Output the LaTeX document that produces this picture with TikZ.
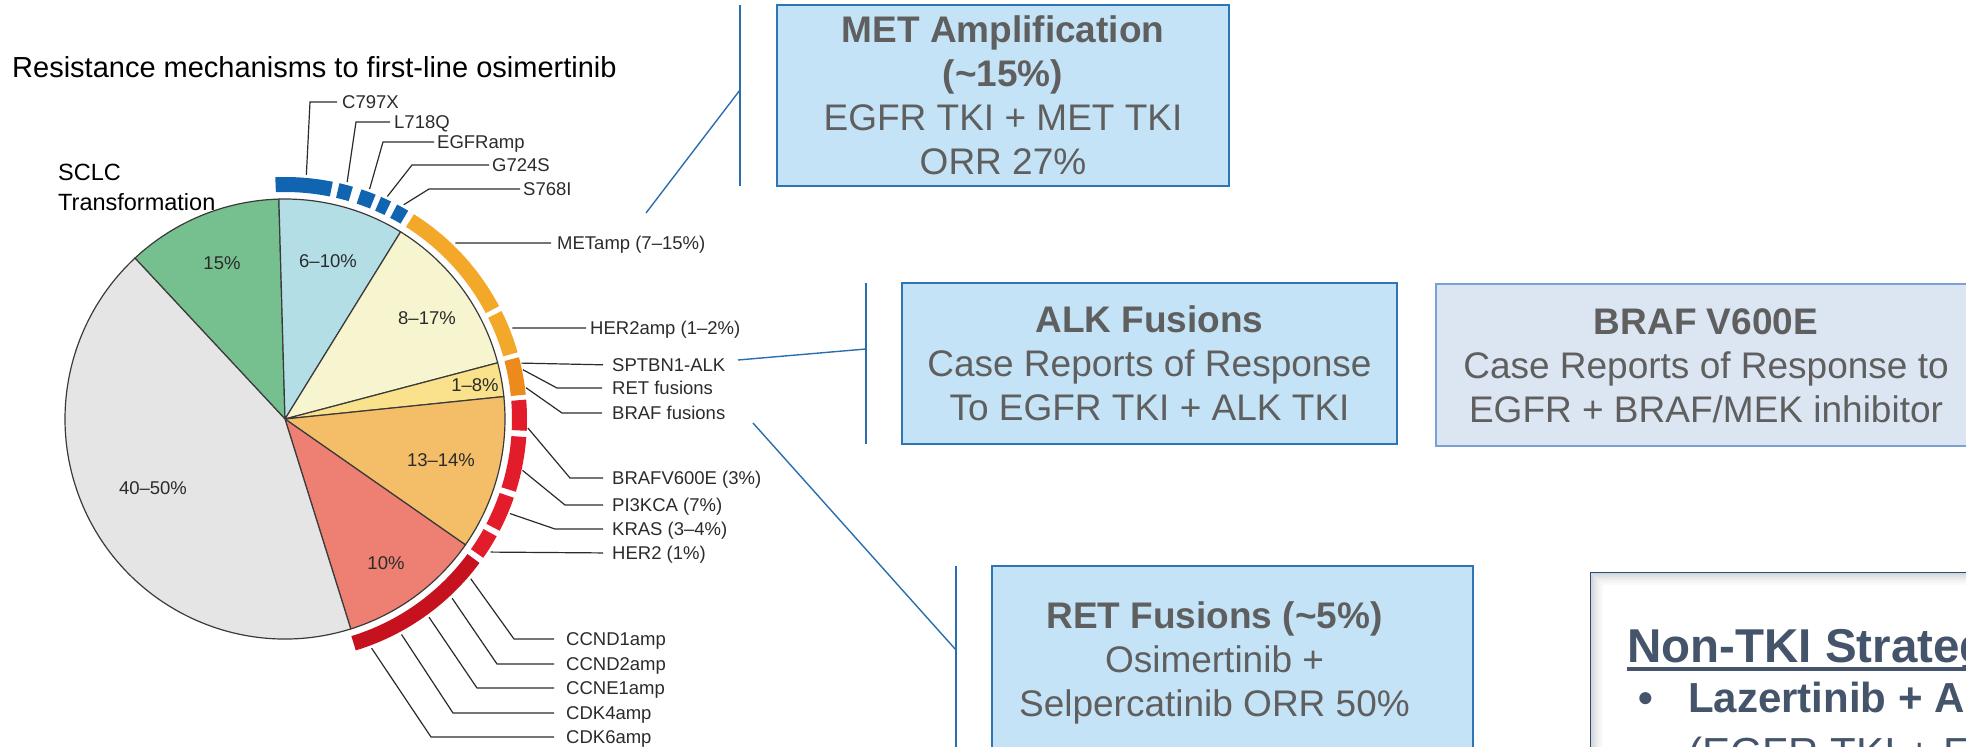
\documentclass[tikz,border=0pt]{standalone}
\usepackage{fontspec}
\setmainfont{Liberation Sans}
\newcommand\fsz[2]{\fontsize{#1}{#2}\selectfont}
\newcommand\bstrut{\rule[-8.75pt]{0pt}{44pt}}
\newcommand\ringseg[3]{\fill[#3] (#1:227) arc[start angle=#1, end angle=#2, radius=227pt] -- (#2:242) arc[start angle=#2, end angle=#1, radius=242pt] -- cycle;}
\definecolor{cGreen}{HTML}{76BF8F}
\definecolor{cLBlue}{HTML}{B4DEE6}
\definecolor{cLYel}{HTML}{F6F5D0}
\definecolor{cYel}{HTML}{FAE18C}
\definecolor{cOrange}{HTML}{F4BE69}
\definecolor{cRed}{HTML}{ED8072}
\definecolor{cGrey}{HTML}{E5E5E5}
\definecolor{rBlue}{HTML}{1164AF}
\definecolor{rOrange}{HTML}{F3A82A}
\definecolor{rDOrange}{HTML}{EC8B1C}
\definecolor{rRed}{HTML}{E21C2A}
\definecolor{rDRed}{HTML}{C6121E}
\definecolor{pieLine}{HTML}{3A3A3A}
\definecolor{labC}{HTML}{2B2B2B}
\definecolor{boxFill}{HTML}{C5E3F6}
\definecolor{boxEdge}{HTML}{2E75B6}
\definecolor{brafFill}{HTML}{DCE6F2}
\definecolor{brafEdge}{HTML}{7AA0D4}
\definecolor{boxText}{HTML}{5F5F5F}
\definecolor{connC}{HTML}{2A6EAE}
\definecolor{ntkEdge}{HTML}{1F4E79}
\definecolor{ntkText}{HTML}{44546A}
\begin{document}
\begin{tikzpicture}[x=1pt,y=-1pt,
  pieline/.style={draw=pieLine, line width=1.2pt},
  lbl/.style={font=\fsz{18.5}{20}, text=labC, inner sep=0pt, anchor=west, text height=13.3pt, text depth=0pt},
  pct/.style={font=\fsz{18.5}{20}, text=labC, inner sep=0pt},
  lead/.style={draw=labC, line width=1.2pt},
  conn/.style={draw=connC, line width=1.4pt},
  infobox/.style={draw=boxEdge, fill=boxFill, line width=1.5pt, inner sep=0pt, text=boxText, align=center, font=\fsz{37}{44}},
  brafbox/.style={infobox, draw=brafEdge, fill=brafFill},
  boxtxt/.style={inner sep=0pt, text=boxText, align=center, font=\fsz{37}{44}},
]
\useasboundingbox (0,0) rectangle (1966,747);
\clip (0,0) rectangle (1966,747);

% title and SCLC label
\node[anchor=base west, inner sep=0pt, font=\fsz{29}{32}] (title) at (12,77) {Resistance mechanisms to first-line osimertinib};
\node[anchor=base west, inner sep=0pt, font=\fsz{23.5}{26}] (sclc1) at (58,180.5) {SCLC};
\node[anchor=base west, inner sep=0pt, font=\fsz{23.5}{26}] (sclc2) at (58,210.5) {Transformation};

% pie
\begin{scope}[shift={(285,419)}, y=1pt]
  \filldraw[pieline, fill=cGreen] (0,0) -- (133:220) arc[start angle=133, end angle=91.6, radius=220pt] -- cycle;
  \filldraw[pieline, fill=cLBlue] (0,0) -- (91.6:220) arc[start angle=91.6, end angle=58.3, radius=220pt] -- cycle;
  \filldraw[pieline, fill=cLYel] (0,0) -- (58.3:220) arc[start angle=58.3, end angle=14.8, radius=220pt] -- cycle;
  \filldraw[pieline, fill=cYel] (0,0) -- (14.8:220) arc[start angle=14.8, end angle=5.85, radius=220pt] -- cycle;
  \filldraw[pieline, fill=cOrange] (0,0) -- (5.85:220) arc[start angle=5.85, end angle=-34.9, radius=220pt] -- cycle;
  \filldraw[pieline, fill=cRed] (0,0) -- (-34.9:220) arc[start angle=-34.9, end angle=-72.6, radius=220pt] -- cycle;
  \filldraw[pieline, fill=cGrey] (0,0) -- (-72.6:220) arc[start angle=-72.6, end angle=-227, radius=220pt] -- cycle;
  % outer ring
  \ringseg{92.3}{78.6}{rBlue}
  \ringseg{77}{73.7}{rBlue}
  \ringseg{71.6}{68}{rBlue}
  \ringseg{66.6}{64}{rBlue}
  \ringseg{62.4}{59.4}{rBlue}
  \ringseg{57.8}{27.8}{rOrange}
  \ringseg{26.5}{16}{rOrange}
  \ringseg{14.8}{5.8}{rDOrange}
  \ringseg{4.6}{-2.8}{rRed}
  \ringseg{-4.3}{-17.5}{rRed}
  \ringseg{-19}{-27.5}{rRed}
  \ringseg{-29}{-35}{rRed}
  \ringseg{-36.5}{-73}{rDRed}
  % leader starts
  \coordinate (s1) at (85:245);
  \coordinate (s2) at (75.3:245);
  \coordinate (s3) at (69.8:245);
  \coordinate (s4) at (65.3:245);
  \coordinate (s5) at (61:245);
  \coordinate (s6) at (45.9:245);
  \coordinate (s7) at (21.8:245);
  \coordinate (s8) at (13.3:243);
  \coordinate (s9) at (11.7:243);
  \coordinate (s10) at (7.4:243);
  \coordinate (s11) at (-2.1:243);
  \coordinate (s12) at (-12.2:243);
  \coordinate (s13) at (-22.8:244);
  \coordinate (s14) at (-32.9:245);
  \coordinate (s15) at (-40.7:245);
  \coordinate (s16) at (-47:245);
  \coordinate (s17) at (-54:245);
  \coordinate (s18) at (-61.6:245);
  \coordinate (s19) at (-69.3:245);
\end{scope}

% slice percentages
\node[pct] (p15) at (222,263) {15\%};
\node[pct] (p610) at (328,261) {6–10\%};
\node[pct] (p817) at (427,318) {8–17\%};
\node[pct] (p18) at (475,385) {1–8\%};
\node[pct] (p1314) at (441,460) {13–14\%};
\node[pct] (p10) at (386,563) {10\%};
\node[pct] (p4050) at (153,488) {40–50\%};

% labels
\node[lbl] (l1) at (342,102) {C797X};
\node[lbl] (l2) at (394,122) {L718Q};
\node[lbl] (l3) at (437,142) {EGFRamp};
\node[lbl] (l4) at (492,165) {G724S};
\node[lbl] (l5) at (523,189) {S768I};
\node[lbl] (l6) at (557,243) {METamp (7–15\%)};
\node[lbl] (l7) at (590,328) {HER2amp (1–2\%)};
\node[lbl] (l8) at (612,365) {SPTBN1-ALK};
\node[lbl] (l9) at (612,388) {RET fusions};
\node[lbl] (l10) at (612,413) {BRAF fusions};
\node[lbl] (l11) at (612,478) {BRAFV600E (3\%)};
\node[lbl] (l12) at (612,505) {PI3KCA (7\%)};
\node[lbl] (l13) at (612,529) {KRAS (3–4\%)};
\node[lbl] (l14) at (612,553) {HER2 (1\%)};
\node[lbl] (l15) at (566,639) {CCND1amp};
\node[lbl] (l16) at (566,664) {CCND2amp};
\node[lbl] (l17) at (566,688) {CCNE1amp};
\node[lbl] (l18) at (566,713) {CDK4amp};
\node[lbl] (l19) at (566,737) {CDK6amp};

% leader lines
\draw[lead, shorten >=5pt] (s1) -- (310,102) -- (l1.west);
\draw[lead, shorten >=4pt] (s2) -- (356,122) -- (l2.west);
\draw[lead, shorten >=3pt] (s3) -- (383,142) -- (l3.west);
\draw[lead, shorten >=3pt] (s4) -- (412,165) -- (l4.west);
\draw[lead, shorten >=3pt] (s5) -- (429,189) -- (l5.west);
\draw[lead, shorten >=6pt] (s6) -- (l6.west);
\draw[lead, shorten >=4pt] (s7) -- (l7.west);
\draw[lead, shorten >=9pt] (s8) -- (l8.west);
\draw[lead, shorten >=10pt] (s9) -- (557,388) -- (l9.west);
\draw[lead, shorten >=10pt] (s10) -- (562,413) -- (l10.west);
\draw[lead, shorten >=9pt] (s11) -- (570,478) -- (l11.west);
\draw[lead, shorten >=9pt] (s12) -- (565,505) -- (l12.west);
\draw[lead, shorten >=9pt] (s13) -- (555,529) -- (l13.west);
\draw[lead, shorten >=9pt] (s14) -- (l14.west);
\draw[lead, shorten >=12pt] (s15) -- (514,639) -- (l15.west);
\draw[lead, shorten >=12pt] (s16) -- (497,664) -- (l16.west);
\draw[lead, shorten >=12pt] (s17) -- (477,688) -- (l17.west);
\draw[lead, shorten >=12pt] (s18) -- (453,713) -- (l18.west);
\draw[lead, shorten >=12pt] (s19) -- (431,737) -- (l19.west);

% info boxes
\node[infobox, minimum width=452pt, minimum height=181pt] (met) at (1003,95.5)
  {\textbf{MET Amplification}\bstrut\\ \textbf{(\textasciitilde15\%)}\bstrut\\ EGFR TKI + MET TKI\bstrut\\ ORR 27\%\bstrut};
\node[infobox, minimum width=495pt, minimum height=161pt] (alk) at (1149.5,363.5)
  {\textbf{ALK Fusions}\bstrut\\ Case Reports of Response\bstrut\\ To EGFR TKI + ALK TKI\bstrut};
\node[brafbox, minimum width=540pt, minimum height=162pt] (braf) at (1706,365)
  {\textbf{BRAF V600E}\bstrut\\ Case Reports of Response to\bstrut\\ EGFR + BRAF/MEK inhibitor\bstrut};
\node[infobox, minimum width=481pt, minimum height=187pt] (ret) at (1232.5,659.5) {};
\node[boxtxt] (rettext) at (1214.5,659.5)
  {\textbf{RET Fusions (\textasciitilde5\%)}\bstrut\\ Osimertinib +\bstrut\\ Selpercatinib ORR 50\%\bstrut};

% connectors to boxes
\coordinate (metT) at (740,5);
\coordinate (metB) at (740,186);
\coordinate (metJ) at (740,90);
\coordinate (metS) at (646,213);
\draw[conn] (metT) -- (metB);
\draw[conn] (metS) -- (metJ);
\coordinate (alkT) at (866,283);
\coordinate (alkB) at (866,444);
\coordinate (alkJ) at (866,349);
\coordinate (alkS) at (738,360);
\draw[conn] (alkT) -- (alkB);
\draw[conn] (alkS) -- (alkJ);
\coordinate (retT) at (956,566);
\coordinate (retB) at (956,760);
\coordinate (retJ) at (956,650);
\coordinate (retS) at (753,423);
\draw[conn] (retT) -- (retB);
\draw[conn] (retS) -- (retJ);

% Non-TKI box
\node[draw=ntkEdge, fill=white, line width=2.2pt, anchor=north west, minimum width=420pt, minimum height=250pt, inner sep=0pt] (ntkbox) at (1590,572) {};
\foreach \i/\c in {2.2/16,4.2/12,6.2/9,8.2/6,10.2/4,12.2/2}
  \draw[line width=2.1pt, draw=black!\c] (1590+\i,800) -- (1590+\i,572+\i) -- (2000,572+\i);
\node[anchor=base west, inner sep=0pt, font=\fsz{47.5}{50}\bfseries, text=ntkText] (ntk) at (1627,662) {Non-TKI Strateg};
\draw[ntkText, line width=3.5pt] ([yshift=-7pt]ntk.base west) -- ([yshift=-7pt]ntk.base east);
\node[anchor=base west, inner sep=0pt, font=\fsz{42}{44}\bfseries, text=ntkText] (laz) at (1638,712) {\makebox[50pt][l]{•}Lazertinib + A};
\node[anchor=base west, inner sep=0pt, font=\fsz{42}{44}, text=ntkText] (egfr) at (1688,767) {(EGFR TKI + E};
\end{tikzpicture}
\end{document}
